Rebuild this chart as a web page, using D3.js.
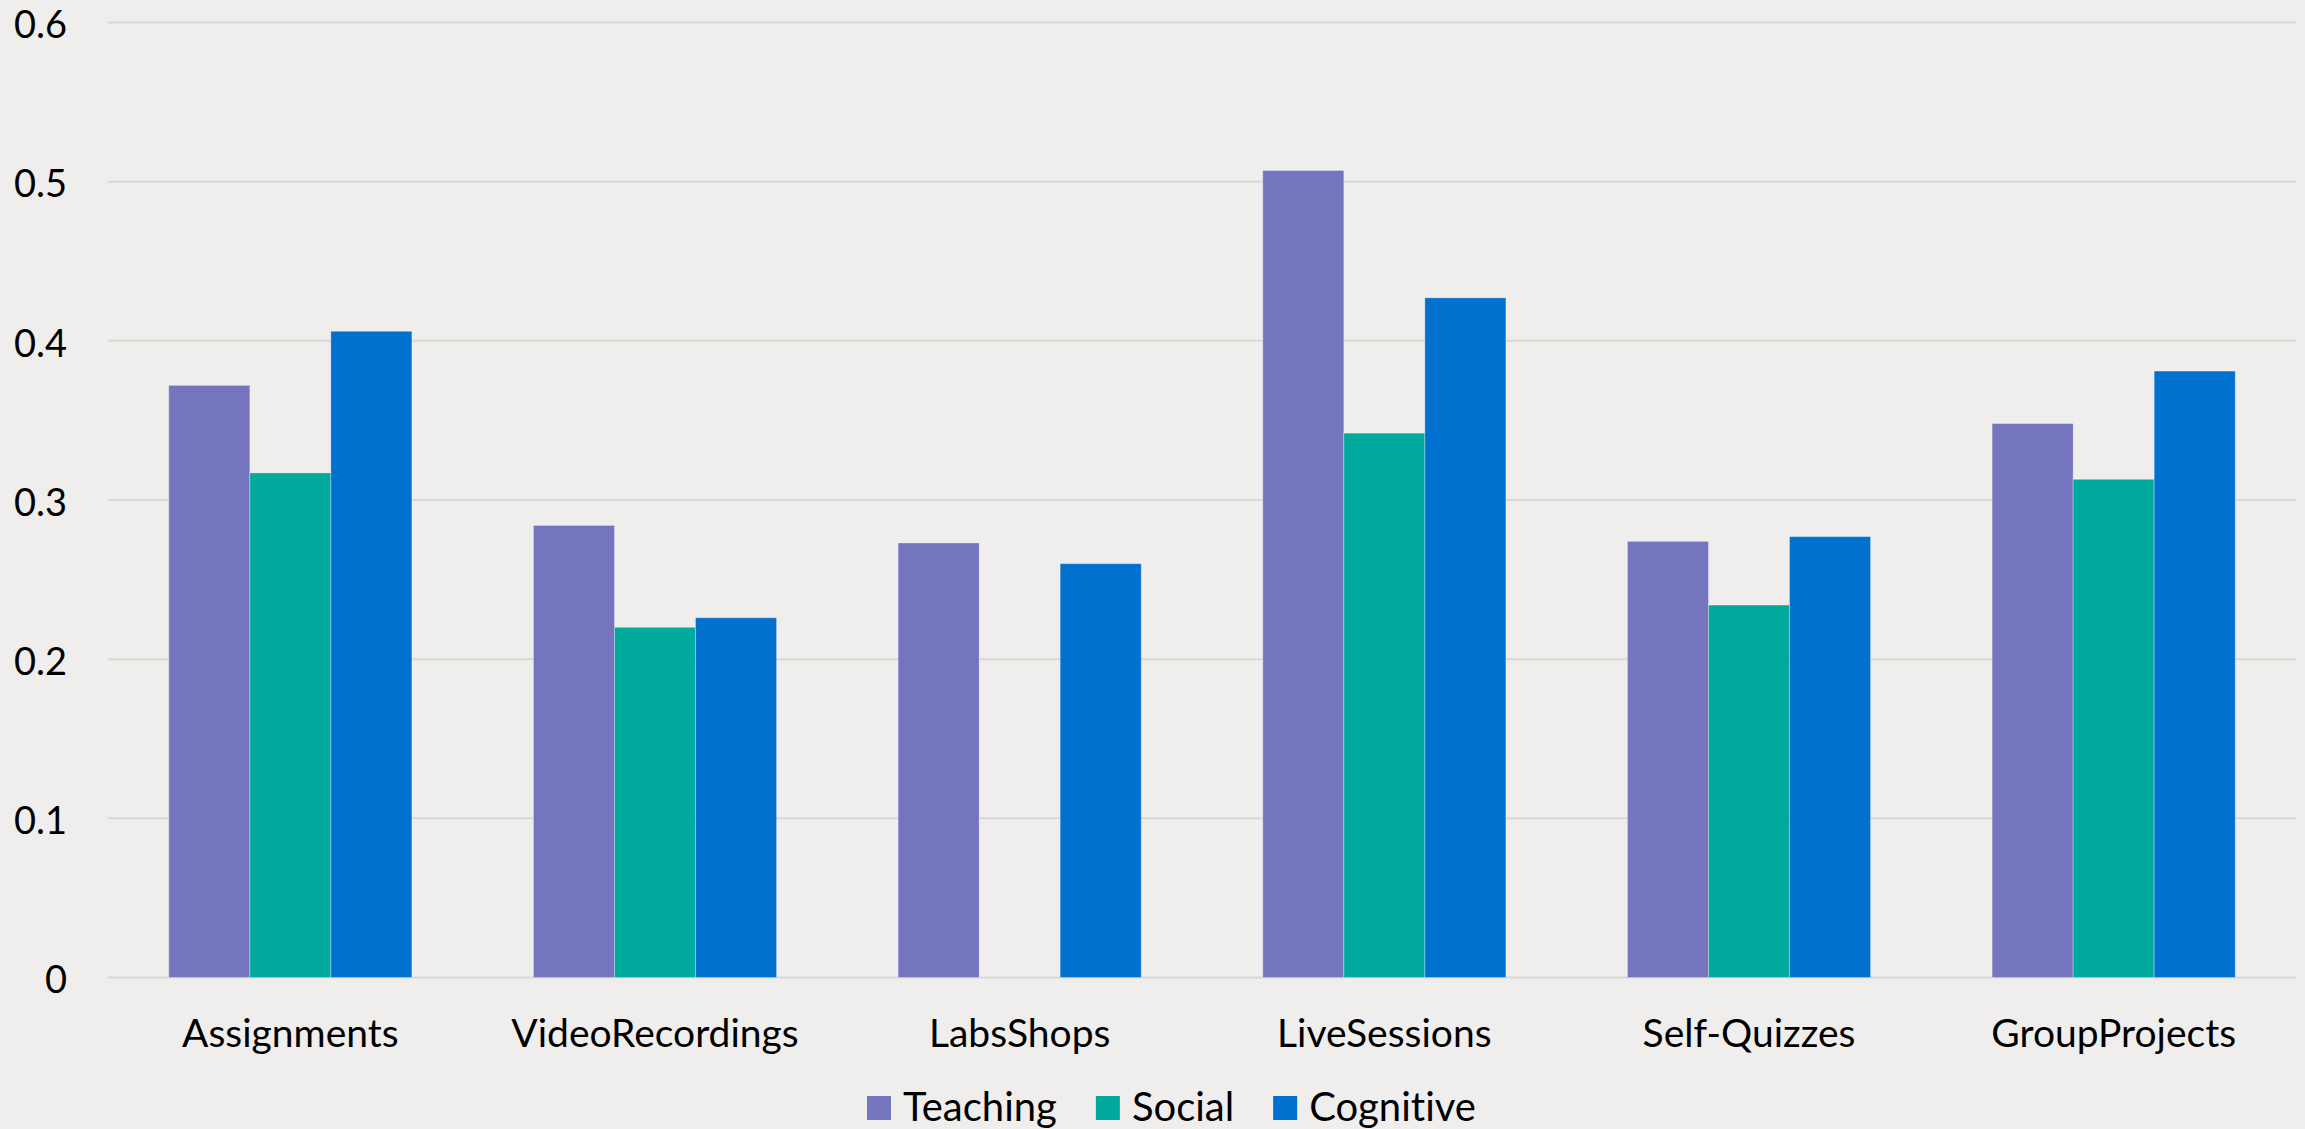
<!DOCTYPE html>
<html>
<head>
<meta charset="utf-8">
<script src="https://cdn.jsdelivr.net/npm/d3@7"></script>
<style>
  html, body { margin: 0; padding: 0; background: #EFEEEC; }
  svg { display: block; }
  text { font-family: Lato, "Open Sans", sans-serif; fill: #000; font-variant-ligatures: none; }
</style>
</head>
<body>
<svg id="chart" width="2305" height="1129"></svg>
<script>
// Presence scores by course activity
const categories = ["Assignments", "VideoRecordings", "LabsShops", "LiveSessions", "Self-Quizzes", "GroupProjects"];
const seriesNames = ["Teaching", "Social", "Cognitive"];
const teaching  = [0.372, 0.284, 0.273, 0.507, 0.274, 0.348];
const social    = [0.317, 0.220, 0,     0.342, 0.234, 0.313];
const cognitive = [0.406, 0.226, 0.260, 0.427, 0.277, 0.381];
const yTicks = [0, 0.1, 0.2, 0.3, 0.4, 0.5, 0.6];
const colors = ["#7574BF", "#00AB9E", "#0071CE"];

const values = [teaching, social, cognitive];
const W = 2305, H = 1129;
const margin = { left: 108, right: 9, top: 22.5, bottom: 151.5 };
const svg = d3.select("#chart");

const x = d3.scaleBand().domain(categories)
  .range([margin.left, W - margin.right]).paddingInner(0).paddingOuter(0);
// 150% gap width: three bars share 2/3 of each band
const groupW = x.bandwidth() * (3 / 4.5);
const xs = d3.scaleBand().domain(seriesNames)
  .range([(x.bandwidth() - groupW) / 2, (x.bandwidth() + groupW) / 2]).padding(0);
const y = d3.scaleLinear().domain([0, 0.6]).range([H - margin.bottom, margin.top]);

// Gridlines
svg.append("g").selectAll("line").data(yTicks).join("line")
  .attr("x1", margin.left).attr("x2", W - margin.right)
  .attr("y1", d => y(d)).attr("y2", d => y(d))
  .attr("stroke", "#D9D8D6").attr("stroke-width", 2);

// Y axis labels
const yAxis = svg.append("g")
  .attr("transform", `translate(${margin.left - 41},0)`)
  .call(d3.axisLeft(y).tickValues(yTicks).tickFormat(d => d === 0 ? "0" : d3.format(".1f")(d)).tickSize(0).tickPadding(0));
yAxis.select(".domain").remove();
yAxis.selectAll("text").attr("font-size", 38).attr("font-family", "Lato, sans-serif").attr("fill", "#000").attr("dy", "0.4em");

// Bars
const groups = svg.append("g").selectAll("g").data(categories).join("g")
  .attr("transform", d => `translate(${x(d)},0)`);
groups.selectAll("rect")
  .data((c, i) => seriesNames.map((s, k) => ({ s, k, v: values[k][i] })))
  .join("rect")
  .attr("x", d => xs(d.s))
  .attr("width", xs.bandwidth())
  .attr("y", d => y(d.v))
  .attr("height", d => y(0) - y(d.v))
  .attr("fill", d => colors[d.k])
  .attr("stroke", "rgba(255,255,255,0.3)")
  .attr("stroke-width", d => d.v > 0 ? 1 : 0);

// X axis labels
const xAxis = svg.append("g")
  .attr("transform", `translate(0,${y(0)})`)
  .call(d3.axisBottom(x).tickSize(0).tickPadding(0));
xAxis.select(".domain").remove();
xAxis.selectAll("text").attr("font-size", 39).attr("font-family", "Lato, sans-serif")
  .attr("fill", "#000").attr("y", 69).attr("dy", 0);

// Legend
const legend = svg.append("g").attr("transform", "translate(867,1121)");
let cx = 0;
seriesNames.forEach((name, k) => {
  legend.append("rect").attr("x", cx).attr("y", -25).attr("width", 24).attr("height", 24).attr("fill", colors[k]);
  const t = legend.append("text").attr("x", cx + 36).attr("y", 0).attr("font-size", 40).text(name);
  cx += 36 + t.node().getComputedTextLength() + 39;
});
</script>
</body>
</html>
